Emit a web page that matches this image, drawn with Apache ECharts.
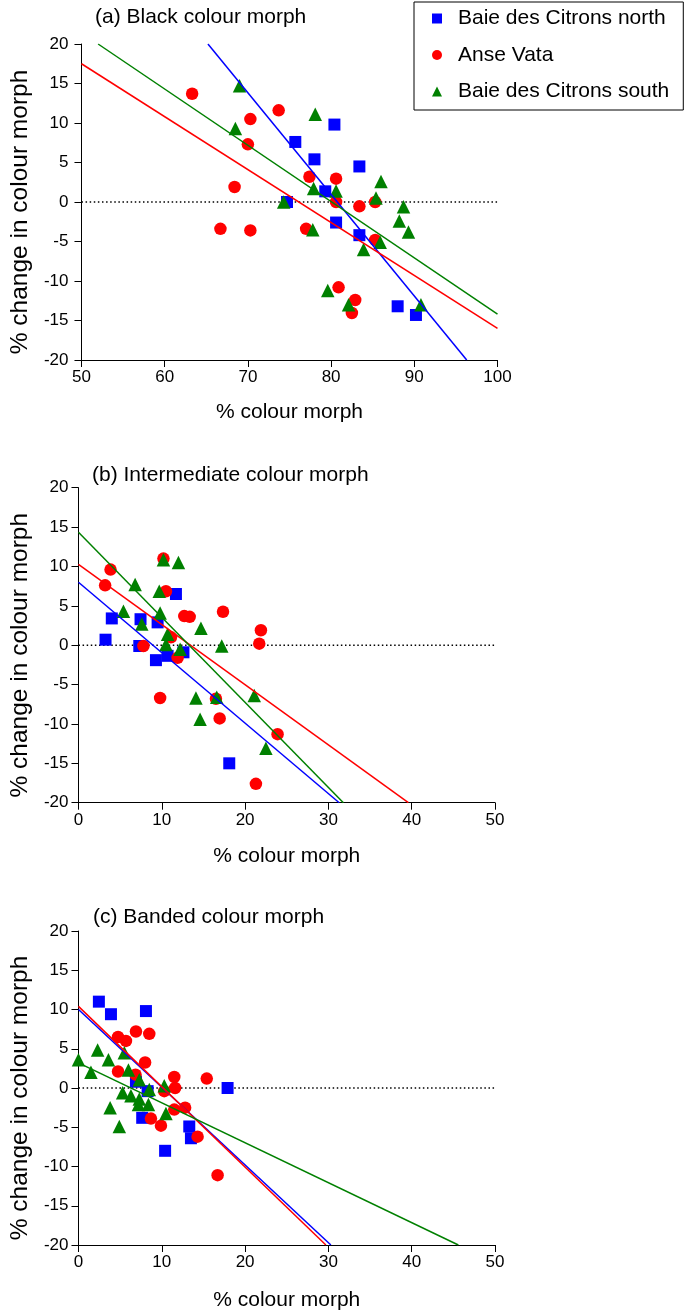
<!DOCTYPE html>
<html>
<head>
<meta charset="utf-8">
<script src="https://cdn.jsdelivr.net/npm/echarts@6/dist/echarts.min.js"></script>
<style>
html,body{margin:0;padding:0;background:#fff;}
#chart{width:685px;height:1312px;}
</style>
</head>
<body>
<div id="chart"></div>
<script>
// ---------- DATA ----------
const seriesNames = ['Baie des Citrons north', 'Anse Vata', 'Baie des Citrons south'];
const panelTitles = ['(a) Black colour morph', '(b) Intermediate colour morph', '(c) Banded colour morph'];
const xAxisName = '% colour morph';
const yAxisName = '% change in colour morph';
const xRanges = [[50, 100], [0, 50], [0, 50]];
const yRange = [-20, 20];
const xInterval = 10;
const yInterval = 5;

// Panel (a) Black
const aNorth = [[75.7,7.6],[78.0,5.4],[80.4,9.8],[83.4,4.5],[79.3,1.35],[74.7,0],[80.6,-2.6],[83.4,-4.2],[88.0,-13.2],[90.2,-14.3]];
const aVata = [[63.3,13.7],[70.3,10.5],[73.7,11.6],[70.0,7.3],[68.4,1.9],[66.7,-3.4],[70.3,-3.6],[77.4,3.2],[80.6,2.95],[80.6,0],[77.0,-3.4],[83.4,-0.55],[85.3,0],[85.3,-4.8],[80.9,-10.8],[82.9,-12.4],[82.5,-14.05]];
const aSouth = [[69.0,14.7],[68.5,9.3],[78.1,11.1],[77.9,1.7],[80.6,1.4],[74.3,0],[77.8,-3.5],[85.4,0.5],[86.0,2.6],[88.7,-0.6],[88.2,-2.4],[89.3,-3.8],[85.9,-5.1],[83.9,-6.0],[79.6,-11.2],[82.1,-13.0],[90.8,-13.0]];
const aFitNorth = [[65.2,20],[96.3,-20]];
const aFitVata = [[50,17.5],[100,-16.0]];
const aFitSouth = [[52,20],[100,-14.2]];

// Panel (b) Intermediate
const bNorth = [[3.25,0.7],[4.0,3.4],[7.45,3.3],[9.5,2.9],[11.7,6.5],[7.3,-0.1],[9.3,-1.9],[10.7,-1.35],[12.6,-0.9],[18.1,-15.0]];
const bVata = [[3.85,9.6],[3.2,7.6],[10.2,11.0],[10.5,6.85],[12.7,3.7],[13.35,3.6],[17.35,4.25],[21.9,1.9],[21.7,0.2],[7.8,-0.1],[11.1,1.0],[11.9,-1.6],[9.8,-6.7],[16.5,-6.8],[16.95,-9.3],[23.9,-11.3],[21.3,-17.6]];
const bSouth = [[5.4,4.3],[6.8,7.7],[7.6,2.7],[9.7,6.85],[9.8,4.1],[10.2,10.85],[12.0,10.5],[10.7,1.4],[10.5,0.1],[12.2,-0.5],[14.7,2.15],[17.2,-0.1],[14.1,-6.7],[16.6,-6.6],[14.6,-9.4],[21.1,-6.4],[22.5,-13.1]];
const bFitNorth = [[0,8.0],[31.3,-20]];
const bFitVata = [[0,10.25],[39.6,-20]];
const bFitSouth = [[0,14.35],[31.8,-20]];

// Panel (c) Banded
const cNorth = [[2.45,11.0],[3.9,9.4],[8.1,9.8],[6.9,0.8],[8.3,-0.4],[7.65,-3.8],[10.4,-8.0],[13.3,-4.9],[13.5,-6.4],[17.9,0]];
const cVata = [[4.75,6.5],[5.7,6.0],[6.9,7.2],[8.5,6.9],[8.0,3.25],[4.75,2.1],[6.85,1.7],[11.5,1.4],[11.6,0],[15.4,1.2],[10.3,-0.4],[11.5,-2.75],[12.8,-2.5],[8.7,-3.9],[9.9,-4.8],[14.3,-6.2],[16.7,-11.1]];
const cSouth = [[0,3.6],[1.5,2.0],[2.3,4.85],[3.6,3.6],[5.5,4.5],[6.0,2.3],[7.3,1.05],[8.5,-0.2],[10.3,0.3],[5.3,-0.6],[6.3,-1.0],[7.3,-1.4],[7.2,-2.1],[8.4,-2.1],[3.8,-2.5],[10.5,-3.25],[4.9,-4.9]];
const cFitNorth = [[0,10.0],[30.3,-20]];
const cFitVata = [[0,10.4],[29.7,-20]];
const cFitSouth = [[0,3.2],[45.6,-20]];

// ---------- STYLE / LAYOUT ----------
const FONT = "'Liberation Sans', Arial, Helvetica, sans-serif";
const colors = ['#0000ff', '#ff0000', '#008000'];
const symbols = ['rect', 'circle', 'triangle'];
const symbolSizes = [12, 12.5, 13.5];

const panels = [
  {pts: [aNorth, aVata, aSouth], fits: [aFitNorth, aFitVata, aFitSouth]},
  {pts: [bNorth, bVata, bSouth], fits: [bFitNorth, bFitVata, bFitSouth]},
  {pts: [cNorth, cVata, cSouth], fits: [cFitNorth, cFitVata, cFitSouth]}
];
const grids = [
  {left: 76.5, top: 44, width: 421, height: 316},
  {left: 73, top: 487.7, width: 422, height: 315},
  {left: 73, top: 931, width: 422, height: 314.7}
];
const titlePos = [{left: 95, top: 7}, {left: 92, top: 465}, {left: 93, top: 907}];
const xNameGaps = [42, 43, 45];
const yNameGaps = [45, 42, 42];
const yLabelMargins = [13, 10, 10];

const axisLineStyle = {color: '#000', width: 1};

const option = {
  animation: false,
  backgroundColor: '#fff',
  textStyle: {fontFamily: FONT},
  title: panelTitles.map((t, i) => ({
    text: t, left: titlePos[i].left, top: titlePos[i].top, padding: 0,
    textStyle: {fontFamily: FONT, fontSize: 21, fontWeight: 'normal', color: '#000'}
  })),
  legend: {
    orient: 'vertical', left: 414, top: 2,
    padding: [6, 14, 8, 18],
    itemGap: 15.5, itemWidth: 10, itemHeight: 10,
    borderColor: '#000', borderWidth: 1,
    textStyle: {fontFamily: FONT, fontSize: 21, color: '#000', lineHeight: 20, padding: [0, 0, 0, 11]},
    data: seriesNames.map((n, i) => ({name: n, icon: symbols[i]})),
    selectedMode: false
  },
  grid: grids.map(g => Object.assign({containLabel: false}, g)),
  xAxis: grids.map((g, i) => ({
    type: 'value', gridIndex: i, min: xRanges[i][0], max: xRanges[i][1], interval: xInterval,
    name: xAxisName, nameLocation: 'middle', nameGap: xNameGaps[i],
    nameTextStyle: {fontFamily: FONT, fontSize: 21, color: '#000'},
    axisLine: {show: true, onZero: false, lineStyle: axisLineStyle},
    axisTick: {show: true, inside: false, length: 7, lineStyle: axisLineStyle},
    axisLabel: {fontFamily: FONT, fontSize: 17, color: '#000', margin: 9},
    splitLine: {show: false}
  })),
  yAxis: grids.map((g, i) => ({
    type: 'value', gridIndex: i, min: yRange[0], max: yRange[1], interval: yInterval,
    name: yAxisName, nameLocation: 'middle', nameGap: yNameGaps[i],
    nameTextStyle: {fontFamily: FONT, fontSize: 24.5, color: '#000', padding: [0, 20, 0, 0]},
    axisLine: {show: true, onZero: false, lineStyle: axisLineStyle},
    axisTick: {show: true, inside: false, length: 7, lineStyle: axisLineStyle},
    axisLabel: {fontFamily: FONT, fontSize: 17, color: '#000', margin: yLabelMargins[i]},
    splitLine: {show: false}
  })),
  series: []
};

panels.forEach((p, i) => {
  // zero reference line (dotted)
  option.series.push({
    type: 'line', xAxisIndex: i, yAxisIndex: i, silent: true, symbol: 'none',
    data: [[xRanges[i][0], 0], [xRanges[i][1], 0]],
    lineStyle: {color: '#000', width: 1.5, type: [1.5, 2.6]}, z: 1
  });
  p.pts.forEach((d, k) => {
    option.series.push({
      name: seriesNames[k], type: 'scatter', xAxisIndex: i, yAxisIndex: i,
      symbol: symbols[k], symbolSize: symbolSizes[k],
      itemStyle: {color: colors[k], opacity: 1}, data: d, z: 2
    });
  });
  p.fits.forEach((d, k) => {
    option.series.push({
      name: 'fit-' + k + '-' + i, type: 'line', xAxisIndex: i, yAxisIndex: i, silent: true,
      symbol: 'none', data: d, clip: true,
      lineStyle: {color: colors[k], width: 1.5}, z: 3
    });
  });
});

const chart = echarts.init(document.getElementById('chart'), null, {renderer: 'canvas'});
chart.setOption(option);
</script>
</body>
</html>
